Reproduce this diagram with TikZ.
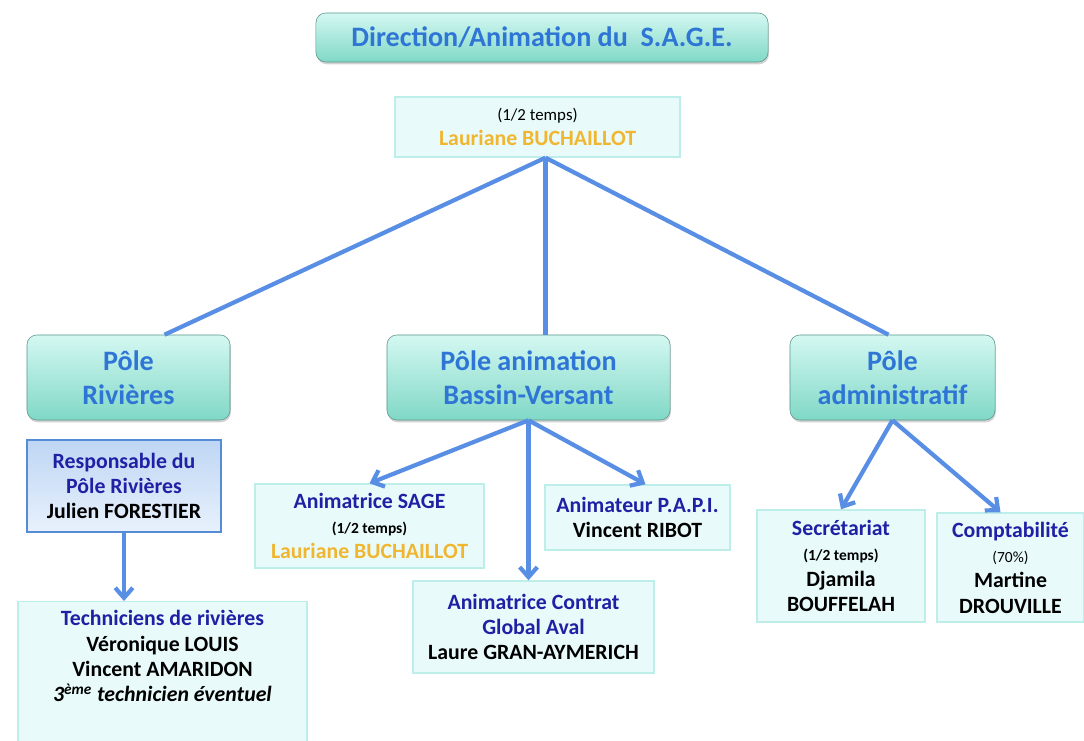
\documentclass[tikz,border=0pt]{standalone}
\usepackage{fontspec}
\setmainfont{Carlito}
\usepackage{tikz}
\usetikzlibrary{arrows.meta,positioning,calc,shadows}
\definecolor{titleblue}{RGB}{46,117,214}
\definecolor{darkblue}{RGB}{32,32,165}
\definecolor{gold}{RGB}{240,182,48}
\definecolor{linkblue}{RGB}{88,142,228}
\definecolor{mintTop}{RGB}{212,248,242}
\definecolor{mintBot}{RGB}{128,216,198}
\definecolor{liteFill}{RGB}{232,251,250}
\definecolor{liteDraw}{RGB}{190,238,234}
\definecolor{respTop}{RGB}{190,214,244}
\definecolor{respBot}{RGB}{232,241,252}
\definecolor{respDraw}{RGB}{86,140,214}
\tikzset{
  poleblk/.style={rectangle,rounded corners=7pt,draw=mintBot!70!black,thin,
    top color=mintTop,bottom color=mintBot,align=center,text=titleblue,
    font=\bfseries\fontsize{20}{24}\selectfont,
    drop shadow={opacity=0.35,shadow xshift=0.6pt,shadow yshift=-1.6pt}},
  liteblk/.style={rectangle,draw=liteDraw,line width=1pt,fill=liteFill,align=center,
    font=\bfseries\fontsize{15.5}{18}\selectfont},
  respblk/.style={rectangle,draw=respDraw,line width=1.5pt,top color=respTop,
    bottom color=respBot,align=center,font=\bfseries\fontsize{15.5}{18}\selectfont},
  lnk/.style={linkblue,line width=3pt},
  arr/.style={lnk,-{Straight Barb[length=2.5mm,width=4.4mm]}}
}
\newcommand{\dkb}[1]{\textcolor{darkblue}{#1}}
\newcommand{\gld}[1]{\textcolor{gold}{#1}}
\newcommand{\sml}[1]{{\fontsize{11}{13}\selectfont #1}}
\begin{document}
\begin{tikzpicture}[x=0.025cm,y=-0.025cm]
  \useasboundingbox[fill=white] (0,0) rectangle (1084,741);

  % top
  \node[poleblk,minimum width=11.3cm,minimum height=1.225cm] (title) at (542,37.5)
    {Direction/Animation du\ \ S.A.G.E.};
  \node[liteblk,minimum width=7.125cm,minimum height=1.5cm] (lauriane) at (537.5,127)
    {{\mdseries\fontsize{12}{15}\selectfont (1/2 temps)}\\\gld{Lauriane BUCHAILLOT}};
  \coordinate (hub) at ([xshift=0.2cm]lauriane.south);

  % poles
  \node[poleblk,minimum width=5.075cm,minimum height=2.125cm] (riv) at (128.5,377.5)
    {Pôle\\Rivières};
  \node[poleblk,minimum width=7.075cm,minimum height=2.125cm] (bv) at (528.5,377.5)
    {Pôle animation\\Bassin-Versant};
  \node[poleblk,minimum width=5.125cm,minimum height=2.125cm] (adm) at (892.5,377.5)
    {Pôle\\administratif};

  \draw[lnk] (hub) -- ([xshift=0.9cm]riv.north);
  \draw[lnk] (hub) -- (hub |- bv.north);
  \draw[lnk] (hub) -- ([xshift=-0.1cm]adm.north);

  % pole rivieres
  \node[respblk,minimum width=4.85cm,minimum height=2.3cm] (resp) at (124,486)
    {\dkb{Responsable du}\\\dkb{Pôle Rivières}\\Julien FORESTIER};
  \node[liteblk,minimum width=7.225cm,minimum height=3.9cm,anchor=north] (tech) at (162.5,601) {};
  \node[liteblk,draw=none,fill=none,below=0.1cm of tech.north] (techtxt)
    {\dkb{Techniciens de rivières}\\Véronique LOUIS\\Vincent AMARIDON\\
     \textit{3\textsuperscript{ème} technicien éventuel}};
  \draw[arr] (resp.south) -- (resp.south |- tech.north);

  % pole animation
  \node[liteblk,minimum width=5.725cm,minimum height=2.1cm] (sage) at (369.5,526)
    {\dkb{Animatrice SAGE}\\\sml{(1/2 temps)}\\\gld{Lauriane BUCHAILLOT}};
  \node[liteblk,minimum width=6.025cm,minimum height=2.3cm] (contrat) at (533.5,627)
    {\dkb{Animatrice Contrat}\\\dkb{Global Aval}\\Laure GRAN-AYMERICH};
  \node[liteblk,minimum width=4.625cm,minimum height=1.625cm] (papi) at (637.5,517.5)
    {\dkb{Animateur P.A.P.I.}\\Vincent RIBOT};
  \draw[arr] (bv.south) -- (sage.north);
  \draw[arr] (bv.south) -- (bv.south |- contrat.north);
  \draw[arr] (bv.south) -- ([xshift=0.2cm]papi.north);

  % pole administratif
  \node[liteblk,minimum width=4.2cm,minimum height=2.8cm] (secr) at (841,566)
    {\dkb{Secrétariat}\\\sml{(1/2 temps)}\\Djamila\\BOUFFELAH};
  \node[liteblk,minimum width=3.675cm,minimum height=2.725cm] (compt) at (1010.5,567.5)
    {\dkb{Comptabilité}\\{\mdseries\sml{(70\%)}}\\Martine\\DROUVILLE};
  \draw[arr] (adm.south) -- (secr.north);
  \draw[arr] (adm.south) -- ([xshift=-0.25cm]compt.north);
\end{tikzpicture}
\end{document}
